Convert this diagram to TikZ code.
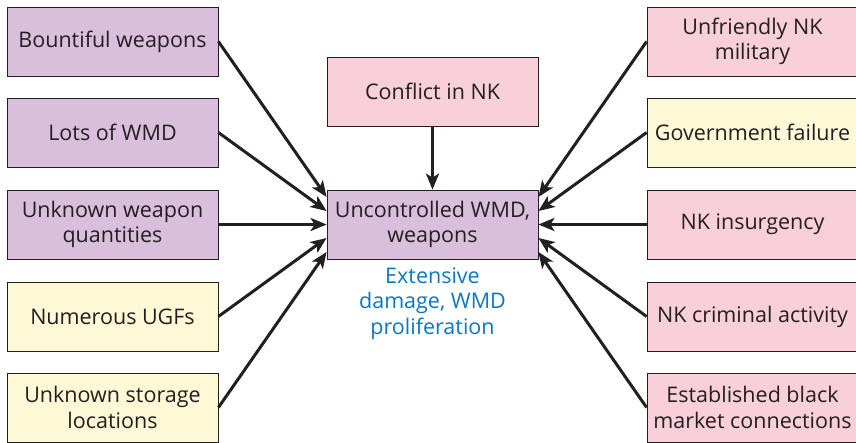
\documentclass[tikz,border=0pt]{standalone}
\usepackage{fontspec}
\setmainfont{Open Sans}
\usetikzlibrary{arrows.meta,calc}
\definecolor{lilac}{HTML}{D9BFDC}
\definecolor{blush}{HTML}{F9D0DA}
\definecolor{cream}{HTML}{FDF8D6}
\definecolor{ink}{HTML}{231F20}
\definecolor{note}{HTML}{0A77C4}
\begin{document}
\begin{tikzpicture}[x=1pt,y=-1pt,
  box/.style={draw=ink, line width=0.8pt, minimum width=211pt, minimum height=69pt,
    align=center, text=ink, inner sep=0pt, font=\fontsize{21.5}{25.5}\selectfont},
  purplebox/.style={box, fill=lilac},
  pinkbox/.style={box, fill=blush},
  yellowbox/.style={box, fill=cream},
  link/.style={line width=3pt, draw=ink, -{Stealth[length=16pt,width=13pt,inset=4pt]}}]
\useasboundingbox (0,0) rectangle (856,442);

% causes on the left
\node[purplebox] (l1) at (112.5,41.5) {Bountiful weapons};
\node[purplebox] (l2) at (112.5,132.5) {Lots of WMD};
\node[purplebox] (l3) at (112.5,224.5) {Unknown weapon\\quantities};
\node[yellowbox] (l4) at (112.5,316.5) {Numerous UGFs};
\node[yellowbox] (l5) at (112.5,407.5) {Unknown storage\\locations};

% causes on the right
\node[pinkbox] (r1) at (752.5,41.5) {Unfriendly NK\\military};
\node[yellowbox] (r2) at (752.5,132.5) {Government failure};
\node[pinkbox] (r3) at (752.5,224.5) {NK insurgency};
\node[pinkbox] (r4) at (752.5,316.5) {NK criminal activity};
\node[pinkbox] (r5) at (752.5,407.5) {Established black\\market connections};

% centre column
\node[pinkbox] (c) at (432.5,91.5) {Conflict in NK};
\node[purplebox] (u) at (432.5,224.5) {Uncontrolled WMD,\\weapons};
\node[anchor=north, align=center, text=note, inner sep=0pt,
  font=\fontsize{21.5}{25.5}\selectfont] (out) at ([yshift=-8pt]u.south)
  {Extensive\\damage, WMD\\proliferation};

% arrow targets on the sides of the centre box
\coordinate (ul1) at ([yshift=27.5pt]u.west);
\coordinate (ul2) at ([yshift=13.5pt]u.west);
\coordinate (ul3) at (u.west);
\coordinate (ul4) at ([yshift=-13.5pt]u.west);
\coordinate (ul5) at ([yshift=-27.5pt]u.west);
\coordinate (ur1) at ([yshift=27.5pt]u.east);
\coordinate (ur2) at ([yshift=13.5pt]u.east);
\coordinate (ur3) at (u.east);
\coordinate (ur4) at ([yshift=-13.5pt]u.east);
\coordinate (ur5) at ([yshift=-27.5pt]u.east);

\foreach \i in {1,...,5} {
  \draw[link] (l\i.east) -- (ul\i);
  \draw[link] (r\i.west) -- (ur\i);
}
\draw[link] (c.south) -- (u.north);
\end{tikzpicture}
\end{document}
